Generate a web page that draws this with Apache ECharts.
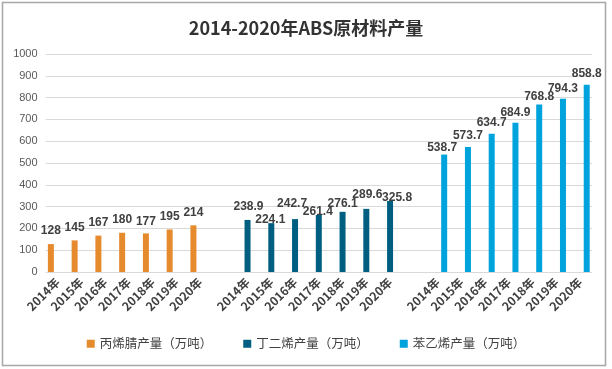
<!DOCTYPE html>
<html>
<head>
<meta charset="utf-8">
<script src="https://cdn.jsdelivr.net/npm/echarts@6/dist/echarts.min.js"></script>
<style>
html,body{margin:0;padding:0;background:#fff;}
#chart{width:612px;height:369px;}
</style>
</head>
<body>
<div id="chart"></div>
<script>
const years = ['2014年','2015年','2016年','2017年','2018年','2019年','2020年'];
const seriesNames = ['丙烯腈产量（万吨）','丁二烯产量（万吨）','苯乙烯产量（万吨）'];
const acrylonitrile = [128, 145, 167, 180, 177, 195, 214];
const butadiene = [238.9, 224.1, 242.7, 261.4, 276.1, 289.6, 325.8];
const styrene = [538.7, 573.7, 634.7, 684.9, 768.8, 794.3, 858.8];
const yTicks = {min: 0, max: 1000, interval: 100};

// categories: three year groups separated by one empty category
const categories = [].concat(years, [''], years, [''], years);
const groups = [acrylonitrile, butadiene, styrene];

// label nudges (style only): the original moved some overlapping labels
const labelNudges = [
  [[0,0],[0,0],[0,0],[0,0],[0,1],[0,0],[0,0]],
  [[1,0],[-1,10],[-3,-2.5],[-1,10],[0,5],[1,-1],[7,10]],
  [[-2,6.5],[0,1.5],[0,2],[0,2.5],[0,5.5],[0,2.7],[0,2]]
];

function place(values, groupIndex) {
  const arr = new Array(categories.length).fill('-');
  values.forEach((v, i) => {
    arr[groupIndex * 8 + i] = {value: v, label: {offset: labelNudges[groupIndex][i]}};
  });
  return arr;
}
const colors = ['#E68A2E', '#005F80', '#00A3DB'];
const font = "'Noto Sans CJK SC', 'Liberation Sans', sans-serif";

const chart = echarts.init(document.getElementById('chart'), null, {renderer: 'canvas'});
chart.setOption({
  animation: false,
  color: colors,
  title: {
    text: '2014-2020年ABS原材料产量',
    left: 'center',
    top: 14,
    textStyle: {fontFamily: font, fontSize: 18, fontWeight: 'bold', color: '#333333'}
  },
  graphic: [{
    type: 'rect',
    shape: {x: 2.5, y: 2.5, width: 603, height: 363},
    style: {fill: 'none', stroke: '#a6a6a6', lineWidth: 1.5},
    silent: true
  }],
  legend: {
    bottom: 14,
    left: 'center',
    itemWidth: 8,
    itemHeight: 8,
    itemGap: 31,
    icon: 'rect',
    textStyle: {fontFamily: font, fontSize: 12.5, color: '#404040'},
    data: seriesNames
  },
  grid: {left: 45.6, right: 20, top: 54, bottom: 97, containLabel: false},
  xAxis: {
    type: 'category',
    data: categories,
    axisLine: {show: false},
    axisTick: {show: false},
    axisLabel: {
      interval: 0,
      rotate: 45,
      margin: 8,
      fontFamily: font,
      fontSize: 12,
      fontWeight: 'bold',
      color: '#404040'
    }
  },
  yAxis: {
    type: 'value',
    min: yTicks.min,
    max: yTicks.max,
    interval: yTicks.interval,
    axisLine: {show: false},
    axisTick: {show: false},
    axisLabel: {
      fontFamily: "'Liberation Sans', sans-serif", fontSize: 11, color: '#595959', margin: 8,
      formatter: v => String(v)
    },
    splitLine: {lineStyle: {color: '#d9d9d9', width: 1}}
  },
  series: groups.map((vals, gi) => ({
    name: seriesNames[gi],
    type: 'bar',
    data: place(vals, gi),
    barWidth: 6,
    barGap: '10%',
    label: {
      show: true,
      position: 'top',
      distance: 7,
      fontFamily: "'Liberation Sans', sans-serif",
      fontSize: 12,
      fontWeight: 'bold',
      color: '#404040'
    }
  }))
});
</script>
</body>
</html>
